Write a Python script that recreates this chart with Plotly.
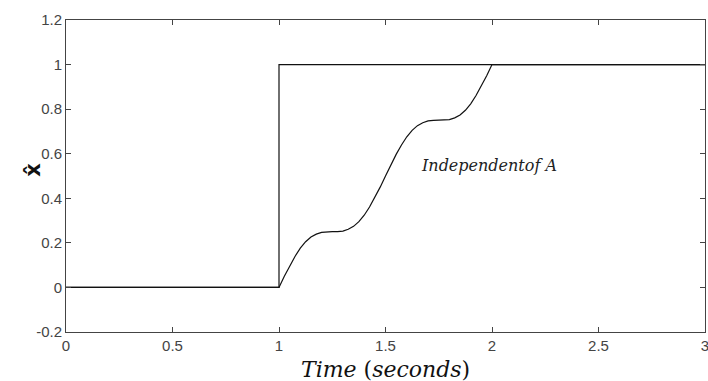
import plotly.graph_objects as go

# Step input
step_t = [0, 1, 1, 3]
step_x = [0, 0, 1, 1]

# Estimated response
resp_t = [0, 1.0, 1.025, 1.05, 1.075, 1.1, 1.125, 1.15, 1.175, 1.2, 1.225, 1.25,
          1.275, 1.3, 1.325, 1.35, 1.375, 1.4, 1.425, 1.45, 1.475, 1.5,
          1.525, 1.55, 1.575, 1.6, 1.625, 1.65, 1.675, 1.7, 1.725, 1.75,
          1.775, 1.8, 1.825, 1.85, 1.875, 1.9, 1.925, 1.95, 1.975, 2.0, 3.0]
resp_x = [0, 0.0, 0.050, 0.097, 0.139, 0.176, 0.205, 0.226, 0.239, 0.247, 0.250, 0.250,
          0.250, 0.253, 0.261, 0.274, 0.295, 0.324, 0.361, 0.403, 0.450, 0.500,
          0.550, 0.597, 0.639, 0.676, 0.705, 0.726, 0.739, 0.747, 0.750, 0.750,
          0.750, 0.753, 0.761, 0.774, 0.795, 0.824, 0.861, 0.903, 0.950, 1.000, 1.000]

x_ticks = [0, 0.5, 1, 1.5, 2, 2.5, 3]
x_labels = ["0", "0.5", "1", "1.5", "2", "2.5", "3"]
y_ticks = [-0.2, 0, 0.2, 0.4, 0.6, 0.8, 1, 1.2]
y_labels = ["-0.2", "0", "0.2", "0.4", "0.6", "0.8", "1", "1.2"]

fig = go.Figure()
fig.add_trace(go.Scatter(x=step_t, y=step_x, mode="lines",
                         line=dict(color="#111111", width=1.2), showlegend=False))
fig.add_trace(go.Scatter(x=resp_t, y=resp_x, mode="lines",
                         line=dict(color="#111111", width=1.2), showlegend=False))

fig.add_annotation(x=1.986, y=0.547, text="<i>Independentof A</i>", showarrow=False,
                   font=dict(family="DejaVu Serif", size=16, color="#222222"))

# axis titles as annotations (placed as in the reference)
fig.add_annotation(xref="paper", yref="paper", x=0.5, y=-0.075, yanchor="top",
                   text="<i>Time</i> (<i>seconds</i>)", showarrow=False,
                   font=dict(family="DejaVu Serif", size=22, color="#111111"))
fig.add_annotation(xref="paper", yref="paper", x=-0.0736, y=0.52, textangle=-90,
                   text="<b>x̂</b>", showarrow=False,
                   font=dict(family="DejaVu Sans", size=21, color="#111111"))

axis_common = dict(showline=True, linecolor="#444444", linewidth=1, mirror="ticks",
                   ticks="inside", ticklen=5, tickcolor="#444444", showgrid=False,
                   zeroline=False, automargin=False,
                   tickfont=dict(family="Liberation Sans", size=15, color="#444444"))

fig.update_xaxes(range=[0, 3], tickvals=x_ticks, ticktext=x_labels,
                 ticklabeloverflow="allow", **axis_common)
fig.update_yaxes(range=[-0.2, 1.2], tickvals=y_ticks, ticktext=y_labels, **axis_common)

fig.update_layout(width=712, height=381, plot_bgcolor="white", paper_bgcolor="white",
                  margin=dict(l=66, r=7, t=20, b=49))

fig.write_html("out.html", config={"displayModeBar": False},
               post_script="document.body.style.margin='0';"
                           "document.body.style.overflow='hidden';"
                           "document.documentElement.style.overflow='hidden';")
